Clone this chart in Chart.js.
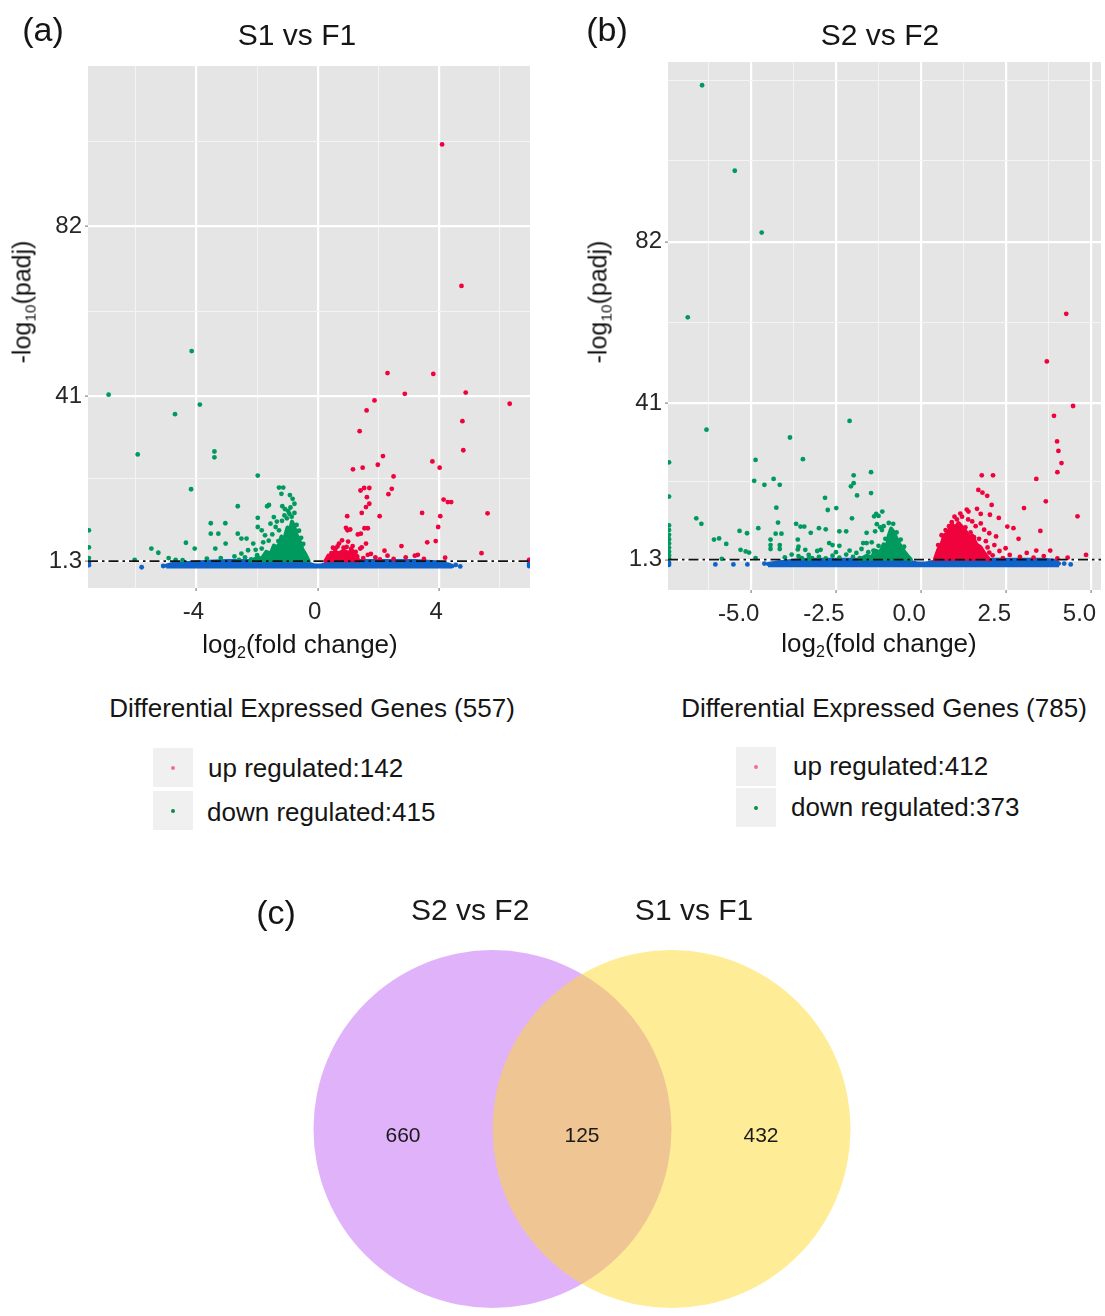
<!DOCTYPE html>
<html>
<head>
<meta charset="utf-8">
<script src="https://cdn.jsdelivr.net/npm/chart.js@4.4.0/dist/chart.umd.min.js"></script>
<style>
  body { margin: 0; background: #fff; }
  #page { position: relative; width: 1105px; height: 1316px; overflow: hidden;
          font-family: 'Liberation Sans', Arial, sans-serif; color: #151515; }
  canvas { position: absolute; }
  .t { position: absolute; transform: translate(-50%, -50%); white-space: nowrap; }
  .tl { position: absolute; transform: translateY(-50%); white-space: nowrap; }
  .ylab { transform: translate(-50%, -50%) rotate(-90deg); }
  sub { font-size: 0.62em; vertical-align: -0.32em; line-height: 0; }
  .key { position: absolute; width: 40px; height: 39px; background: #f0f0f0; }
  .dot { position: absolute; left: 50%; top: 50%; width: 4px; height: 4px;
         margin: -2px 0 0 -2px; border-radius: 50%; }
</style>
</head>
<body>
<div id="page">
  <canvas id="volcanoA" width="545" height="640" style="left:0;top:0"></canvas>
  <canvas id="volcanoB" width="525" height="640" style="left:580px;top:0"></canvas>
  <canvas id="venn" width="600" height="436" style="left:282px;top:880px"></canvas>

  <div class="t" style="left:43px;top:29px;font-size:34px">(a)</div>
  <div class="t" style="left:607px;top:29px;font-size:34px">(b)</div>
  <div class="t" style="left:276px;top:912px;font-size:34px">(c)</div>

  <div class="t" style="left:297px;top:35px;font-size:30px">S1 vs F1</div>
  <div class="t" style="left:880px;top:35px;font-size:30px">S2 vs F2</div>

  <div class="t ylab" style="left:22px;top:302px;font-size:25px">-log<sub>10</sub>(padj)</div>
  <div class="t ylab" style="left:598px;top:302px;font-size:25px">-log<sub>10</sub>(padj)</div>
  <div class="t" style="left:300px;top:644px;font-size:26px">log<sub>2</sub>(fold change)</div>
  <div class="t" style="left:879px;top:643px;font-size:26px">log<sub>2</sub>(fold change)</div>

  <div class="t" id="degA" style="left:312px;top:708px;font-size:26px"></div>
  <div class="key" style="left:153px;top:748px"><div class="dot" style="background:#f4708c"></div></div>
  <div class="key" style="left:153px;top:791px"><div class="dot" style="background:#0b8a4a"></div></div>
  <div class="tl" id="upA" style="left:208px;top:768px;font-size:26px"></div>
  <div class="tl" id="downA" style="left:207px;top:812px;font-size:26px"></div>

  <div class="t" id="degB" style="left:884px;top:708px;font-size:26px"></div>
  <div class="key" style="left:736px;top:747px"><div class="dot" style="background:#f4708c"></div></div>
  <div class="key" style="left:736px;top:788px"><div class="dot" style="background:#0b8a4a"></div></div>
  <div class="tl" id="upB" style="left:793px;top:766px;font-size:26px"></div>
  <div class="tl" id="downB" style="left:791px;top:807px;font-size:26px"></div>
</div>

<script>
// gene counts shown in the legends
const degCountA = { up: 142, down: 415 };
const degCountB = { up: 412, down: 373 };
const padjCut = 1.3;

// ---- (a) S1 vs F1 ----
const aXTicks = [-4, 0, 4];
const aXMinor = [-6, -2, 2, 6];
const aYTicks = [1.3, 41, 82];
const aYMinor = [21.15, 61.5, 102.5];
const aUp = [[4.10,101.7],[4.74,67.6],[2.30,46.6],[3.81,46.4],[2.87,41.6],[4.88,41.9],[6.33,39.2],
  [1.87,40.0],[1.61,37.6],[4.77,35.0],[1.38,32.6],[4.80,28.0],[2.15,26.6],[3.78,25.3],[1.98,24.5],
  [4.02,23.8],[1.16,23.4],[1.48,23.8],[2.50,21.7],[2.44,18.7],[1.41,18.3],[1.53,18.9],[1.70,18.9],
  [2.33,17.4],[1.62,16.7],[1.70,15.1],[1.59,14.3],[4.15,16.1],[4.29,15.5],[4.40,15.5],[1.45,12.9],
  [0.97,12.1],[2.04,12.1],[3.44,12.9],[4.04,12.1],[5.60,12.8],[3.97,9.5],[0.93,9.3],[0.98,8.7],
  [1.07,8.9],[1.54,9.2],[1.65,9.2],[1.42,7.9],[1.32,7.7],[3.89,6.1],[3.61,5.8],[1.59,5.5],[1.0,6.0],
  [0.8,6.3],[2.76,4.9],[1.45,4.6],[1.40,4.3],[2.2,3.8],[5.4,3.2],[3.3,2.8],[3.2,2.6],[4.2,2.1],
  [1.65,2.8],[1.75,3.0],[0.5,4.5],[0.65,4.8],[0.85,4.5],[1.1,4.2],[1.25,3.5],[0.45,3.2],[1.5,2.0],
  [1.9,2.2],[2.5,1.8],[2.9,2.2],[0.7,5.5],[6.97,1.6],[0.58,4.2],[0.95,4.7],[1.15,4.9],[1.3,2.4],
  [0.4,2.4],[1.05,2.0],[0.75,2.5],[1.2,1.8],[2.05,1.7],[2.3,2.6],[3.5,1.8]];
const aDown = [[-4.16,51.9],[-6.90,41.4],[-3.89,39.0],[-4.71,36.7],[-5.94,27.0],[-3.41,27.7],[-3.41,26.3],
  [-1.98,21.9],[-4.18,18.6],[-1.28,19.0],[-1.14,19.0],[-1.2,17.5],[-0.92,17.2],[-0.83,16.3],[-0.77,15.1],
  [-2.64,14.5],[-1.67,14.5],[-1.61,14.8],[-1.17,14.5],[-1.08,13.8],[-0.9,14.2],[-1.98,11.7],[-1.98,9.5],
  [-3.53,10.4],[-3.05,10.4],[-3.53,7.9],[-3.28,7.9],[-2.64,7.9],[-2.52,6.7],[-2.35,6.7],[-3.04,5.5],
  [-3.38,4.3],[-4.35,5.7],[-4.06,4.3],[-5.49,4.3],[-5.26,3.3],[-6.04,1.6],[-4.92,2.0],[-4.69,1.6],
  [-4.46,1.5],[-3.66,1.9],[-3.2,2.0],[-2.75,2.4],[-1.85,8.7],[-1.74,7.5],[-2.13,5.5],[-1.85,4.3],
  [-2.3,3.9],[-2.52,3.1],[-2.0,2.7],[-1.56,10.3],[-1.45,11.9],[-1.39,9.5],[-1.28,8.7],[-1.5,7.7],
  [-1.1,12.3],[-0.94,12.7],[-0.77,12.9],[-0.86,12.0],[-7.55,8.7],[-7.55,4.6],[-7.55,2.0],
  [-1.62,6.2],[-1.35,10.8],[-1.18,11.0],[-1.02,11.6],[-0.7,10.0],[-0.62,8.6],[-0.55,6.9],[-0.48,5.4],
  [-1.8,5.8],[-2.05,4.0],[-1.7,2.6],[-2.4,2.2],[-2.2,1.7],[-2.6,1.6],[-0.98,13.4],[-1.3,6.1]];
const aNs = [[-5.81,-0.2],[-7.55,0.9],[-7.55,0.3],[4.7,0.0],[4.55,0.35],[6.97,0.6],[6.97,0.1],[-5.1,0.1]];
// upper outlines of the dense point clouds
const aUpCore = [[0.25,1.3],[0.35,2.6],[0.45,2.2],[0.55,3.5],[0.7,3.1],[0.85,3.8],[1.0,3.3],[1.15,3.7],
  [1.25,2.7],[1.35,1.3]];
const aDownCore = [[-2.2,1.3],[-2.0,2.1],[-1.85,1.9],[-1.7,3.5],[-1.55,3.1],[-1.45,5.0],[-1.3,4.6],
  [-1.2,7.2],[-1.1,6.7],[-1.0,9.4],[-0.92,8.6],[-0.85,10.8],[-0.78,9.6],[-0.7,7.6],[-0.6,6.1],
  [-0.5,4.0],[-0.4,2.8],[-0.3,1.3]];
const aNsBand = [[-5.0,0.2],[-4.8,0.6],[-4.3,0.8],[-3.6,1.1],[-3.0,1.3],[-0.45,1.3],[-0.3,0.7],
  [-0.12,0.25],[0.12,0.25],[0.3,0.7],[0.45,1.3],[3.2,1.3],[3.9,1.0],[4.3,0.5],[4.45,0.1]];

// ---- (b) S2 vs F2 ----
const bXTicks = [-5, -2.5, 0, 2.5, 5];
const bXMinor = [-6.25, -3.75, -1.25, 1.25, 3.75];
const bYTicks = [1.3, 41, 82];
const bYMinor = [21.15, 61.5, 102.5, 123];
const bUp = [[4.26,63.7],[3.69,51.6],[4.46,40.3],[3.90,37.8],[3.99,31.3],[4.03,28.9],[4.12,25.8],[4.0,23.5],
  [3.38,21.8],[1.78,22.7],[2.11,22.7],[1.68,19.0],[1.80,18.3],[1.94,17.5],[3.66,16.1],[4.59,12.3],
  [3.02,14.4],[1.34,14.0],[1.64,14.2],[1.39,13.5],[2.07,15.2],[2.02,12.7],[1.75,12.9],[2.28,11.9],
  [2.53,9.7],[2.71,9.3],[3.5,8.6],[2.86,6.6],[2.48,4.2],[3.38,3.6],[3.79,3.6],[4.84,2.5],[4.0,1.6],
  [1.2,12.2],[1.05,11.5],[0.9,10.8],[1.5,11.0],[1.6,9.8],[1.85,8.9],[2.0,8.0],[1.45,8.2],[2.2,7.2],
  [1.9,6.0],[2.15,5.0],[2.3,3.5],[2.6,2.5],[2.9,2.0],[3.1,3.0],[2.0,3.1],[1.75,10.5],[1.3,9.5],
  [0.6,7.5],[0.5,5.0],[3.3,1.8],[3.6,2.2],[4.3,1.8],[1.15,13.0],[0.98,12.2],[0.82,9.8],[1.55,7.0],
  [1.7,6.6],[1.95,4.4],[2.1,2.4],[2.4,1.7],[1.38,11.5],[0.72,8.8]];
const bDown = [[-6.43,121.7],[-5.47,100.0],[-4.68,84.3],[-6.85,62.8],[-2.10,36.5],[-6.30,34.3],[-3.85,32.3],
  [-3.47,26.8],[-4.86,26.6],[-7.40,26.0],[-1.47,23.5],[-1.98,22.7],[-4.33,21.8],[-4.9,21.3],[-4.6,20.3],
  [-4.15,20.3],[-1.98,20.7],[-2.06,19.9],[-1.88,17.6],[-1.47,18.2],[-7.4,17.3],[-2.82,17.0],[-4.25,14.5],
  [-2.74,13.9],[-2.49,14.4],[-1.14,13.5],[-1.32,12.9],[-1.38,12.3],[-1.25,12.4],[-2.03,11.8],[-6.60,11.8],
  [-6.45,10.4],[-4.2,10.7],[-3.67,10.4],[-4.78,9.3],[-3.54,9.7],[-3.43,9.7],[-3.0,9.3],[-2.8,9.0],
  [-5.33,8.6],[-5.11,8.0],[-4.27,7.9],[-4.1,7.9],[-2.4,8.5],[-2.2,8.5],[-3.24,8.1],[-1.6,8.1],
  [-1.3,10.3],[-1.2,9.5],[-1.1,9.8],[-1.15,8.8],[-1.35,8.5],[-6.08,6.4],[-5.93,6.7],[-5.72,5.3],
  [-4.42,6.4],[-4.42,5.0],[-4.42,4.0],[-4.15,5.0],[-4.15,4.0],[-3.62,6.4],[-3.62,3.9],[-3.6,4.6],
  [-5.3,3.8],[-5.15,3.4],[-5.05,3.1],[-4.86,1.7],[-5.85,1.5],[-3.5,1.7],[-3.3,1.5],[-3.2,1.7],
  [-3.4,3.8],[-3.05,3.5],[-2.95,3.8],[-2.7,5.5],[-2.6,5.0],[-2.4,4.8],[-1.7,5.5],[-1.6,5.5],[-1.45,5.7],
  [-7.4,10.0],[-7.4,8.8],[-7.4,7.6],[-7.4,6.5],[-7.4,5.4],[-7.4,4.3],[-7.4,3.3],[-7.4,2.4],[-7.4,1.6],
  [-3.6,2.2],[-3.3,2.5],[-3.0,2.0],[-2.8,1.6],[-2.6,2.3],[-2.4,1.8],[-2.2,2.6],[-2.0,2.0],[-1.9,3.0],
  [-1.8,1.7],[-2.5,3.2],[-2.1,3.6],[-1.75,4.0],[-1.55,3.2],[-4.0,1.9],[-3.8,2.6],
  [-0.95,10.6],[-0.82,10.4],[-0.72,8.2],[-0.6,6.4],[-0.5,4.6],[-1.05,6.6],[-1.25,4.8],[-1.4,3.6]];
const bNs = [[-6.04,0.1],[-5.51,0.1],[-5.10,0.1],[-4.6,0.3],[-4.32,0.1],[-7.4,0.0],[-7.4,0.5],[4.39,0.1],[4.2,0.3]];
const bUpCore = [[0.4,1.3],[0.5,3.8],[0.6,5.2],[0.68,7.4],[0.8,8.3],[0.9,10.2],[1.0,9.4],[1.1,10.6],
  [1.2,9.6],[1.3,8.6],[1.4,7.0],[1.5,7.4],[1.62,5.2],[1.75,4.4],[1.85,3.0],[2.0,1.3]];
const bDownCore = [[-1.8,1.3],[-1.6,2.3],[-1.45,1.9],[-1.35,3.6],[-1.2,3.2],[-1.1,5.2],[-1.0,4.8],
  [-0.95,7.4],[-0.88,9.2],[-0.8,8.2],[-0.72,6.6],[-0.62,5.0],[-0.5,3.4],[-0.4,2.3],[-0.3,1.3]];
const bNsBand = [[-4.5,0.2],[-4.2,0.6],[-3.9,0.9],[-3.5,1.2],[-3.0,1.3],[-0.45,1.3],[-0.3,0.7],
  [-0.12,0.35],[0.15,0.35],[0.35,0.7],[0.5,1.3],[3.6,1.3],[3.9,1.0],[4.05,0.3]];

// ---- (c) Venn ----
const vennSets = ['S2 vs F2', 'S1 vs F1'];
const vennCenterX = [-0.5, 0.5];
const vennRadius = 1;
const vennCounts = [660, 125, 432];
const vennCountX = [-1, 0, 1];
const vennSetX = [-0.625, 0.626];

const FONT = "'Liberation Sans', Arial, sans-serif";
const RED = '#f0023c';
const GREEN = '#009a5e';
const BLUE = '#0f62c8';
const TICK = '#262626';

document.getElementById('degA').textContent = `Differential Expressed Genes (${degCountA.up + degCountA.down})`;
document.getElementById('upA').textContent = `up regulated:${degCountA.up}`;
document.getElementById('downA').textContent = `down regulated:${degCountA.down}`;
document.getElementById('degB').textContent = `Differential Expressed Genes (${degCountB.up + degCountB.down})`;
document.getElementById('upB').textContent = `up regulated:${degCountB.up}`;
document.getElementById('downB').textContent = `down regulated:${degCountB.down}`;

const panelBg = {
  id: 'panelBg',
  beforeDraw(chart) {
    const { ctx, chartArea: a } = chart;
    ctx.save();
    ctx.fillStyle = '#e5e5e5';
    ctx.fillRect(a.left, a.top, a.right - a.left, a.bottom - a.top);
    ctx.restore();
  }
};

const toPts = arr => arr.map(p => ({ x: p[0], y: p[1] }));

function gridOpts(isMajor) {
  return {
    color: c => (c.tick && isMajor(c.tick.value) ? '#ffffff' : '#f4f4f4'),
    lineWidth: c => (c.tick && isMajor(c.tick.value) ? 2.2 : 1),
    tickLength: 3,
    tickWidth: 1.1,
    tickColor: c => (c.tick && isMajor(c.tick.value) ? '#7a7a7a' : 'rgba(0,0,0,0)')
  };
}

function volcano(id, d) {
  const majorX = v => d.xTicks.includes(v);
  const majorY = v => d.yTicks.includes(v);
  const dots = (arr, color) => ({ data: toPts(arr), backgroundColor: color, pointRadius: 2.4, borderWidth: 0 });
  const cloud = (arr, color, base) => ({
    data: toPts(arr), showLine: true, pointRadius: 0, borderColor: color, backgroundColor: color,
    borderWidth: 4, borderJoinStyle: 'round', borderCapStyle: 'round', fill: { target: { value: base } }
  });

  new Chart(document.getElementById(id), {
    type: 'scatter',
    data: {
      datasets: [
        { data: [{ x: d.xMin, y: padjCut }, { x: d.xMax, y: padjCut }], showLine: true, fill: false,
          borderColor: '#111111', borderWidth: 1.7, borderDash: [10, 4, 2.5, 4], pointRadius: 0 },
        dots(d.up, RED),
        dots(d.down, GREEN),
        dots(d.ns, BLUE),
        cloud(d.upCore, RED, 1.0),
        cloud(d.downCore, GREEN, 1.0),
        cloud(d.nsBand, BLUE, d.nsBase)
      ]
    },
    options: {
      responsive: false,
      animation: false,
      events: [],
      layout: { padding: { top: d.padTop, right: d.padRight, left: 0, bottom: 0 } },
      plugins: { legend: { display: false }, tooltip: { enabled: false } },
      scales: {
        x: {
          type: 'linear', min: d.xMin, max: d.xMax,
          afterBuildTicks: s => { s.ticks = [...d.xTicks, ...d.xMinor].sort((p, q) => p - q).map(v => ({ value: v })); },
          afterFit: s => { s.height = d.xAxisH; s.paddingLeft = 0; s.paddingRight = 0; },
          ticks: {
            autoSkip: false, maxRotation: 0, padding: 7, labelOffset: d.xLabelShift,
            color: TICK, font: { family: FONT, size: 24 },
            callback: v => (majorX(v) ? v.toFixed(d.xDigits) : '')
          },
          grid: gridOpts(majorX),
          border: { display: false }
        },
        y: {
          type: 'linear', min: d.yMin, max: d.yMax,
          afterBuildTicks: s => { s.ticks = [...d.yTicks, ...d.yMinor].sort((p, q) => p - q).map(v => ({ value: v })); },
          afterFit: s => { s.width = 88; s.paddingTop = 0; s.paddingBottom = 0; },
          ticks: {
            autoSkip: false, padding: 3, color: TICK, font: { family: FONT, size: 24 },
            callback: v => (majorY(v) ? String(v) : '')
          },
          grid: gridOpts(majorY),
          border: { display: false }
        }
      }
    },
    plugins: [panelBg]
  });
}

volcano('volcanoA', {
  xMin: -7.58, xMax: 7.0, yMin: -5.2, yMax: 120.6,
  padTop: 66, padRight: 15, xAxisH: 52, xDigits: 0, xLabelShift: -3,
  xTicks: aXTicks, xMinor: aXMinor, yTicks: aYTicks, yMinor: aYMinor,
  up: aUp, down: aDown, ns: aNs, upCore: aUpCore, downCore: aDownCore, nsBand: aNsBand, nsBase: -0.5
});

volcano('volcanoB', {
  xMin: -7.43, xMax: 5.28, yMin: -6.4, yMax: 127.6,
  padTop: 62, padRight: 0, xAxisH: 50, xDigits: 1, xLabelShift: -12,
  xTicks: bXTicks, xMinor: bXMinor, yTicks: bYTicks, yMinor: bYMinor,
  up: bUp, down: bDown, ns: bNs, upCore: bUpCore, downCore: bDownCore, nsBand: bNsBand, nsBase: -0.6
});

// Venn diagram: circles as scatter points whose radius comes from the x scale
const vennText = {
  id: 'vennText',
  afterDatasetsDraw(chart) {
    const { ctx, scales: { x, y } } = chart;
    ctx.save();
    ctx.fillStyle = '#1a1a1a';
    ctx.textAlign = 'center';
    ctx.textBaseline = 'middle';
    ctx.font = `21px ${FONT}`;
    vennCounts.forEach((n, i) => ctx.fillText(String(n), x.getPixelForValue(vennCountX[i]), y.getPixelForValue(-0.04)));
    ctx.font = `30px ${FONT}`;
    vennSets.forEach((s, i) => ctx.fillText(s, x.getPixelForValue(vennSetX[i]), y.getPixelForValue(1.212)));
    ctx.restore();
  }
};

new Chart(document.getElementById('venn'), {
  type: 'scatter',
  data: {
    datasets: [{
      data: vennCenterX.map(cx => ({ x: cx, y: 0 })),
      backgroundColor: ['rgba(193,101,245,0.5)', 'rgba(253,217,45,0.5)'],
      borderWidth: 0,
      clip: false,
      pointRadius: c => c.chart.scales.x.getPixelForValue(vennRadius) - c.chart.scales.x.getPixelForValue(0)
    }]
  },
  options: {
    responsive: false,
    animation: false,
    events: [],
    layout: { padding: 0 },
    plugins: { legend: { display: false }, tooltip: { enabled: false } },
    scales: {
      x: { type: 'linear', display: false, min: -300 / 179, max: 300 / 179 },
      y: { type: 'linear', display: false, min: -187 / 179, max: 249 / 179 }
    }
  },
  plugins: [vennText]
});
</script>
</body>
</html>
